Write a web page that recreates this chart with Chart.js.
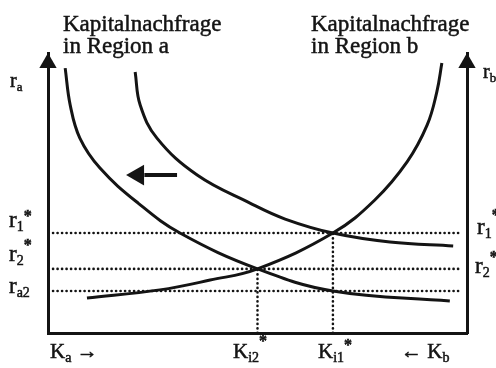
<!DOCTYPE html>
<html>
<head>
<meta charset="utf-8">
<script src="https://cdn.jsdelivr.net/npm/chart.js@4.4.1/dist/chart.umd.min.js"></script>
<style>
  html, body { margin: 0; padding: 0; background: #fff; }
  canvas { display: block; }
</style>
</head>
<body>
<canvas id="kapital-chart" width="496" height="368"></canvas>
<script>
// Kapitalnachfrage in Region a (nach der Verschiebung, links)
const kapitalA1 = [4.1, 5.3, 7.6, 12.4, 21.5, 31.5, 50.0, 68.0, 95.9];
const zinsA1 = [94.6, 81.4, 69.6, 58.9, 46.4, 35.7, 22.9, 15.0, 11.4];
// Kapitalnachfrage in Region a (ursprünglich)
const kapitalA0 = [20.8, 22.0, 26.0, 35.6, 48.2, 56.6, 68.0, 81.6, 96.7];
const zinsA0 = [93.2, 81.4, 69.6, 56.4, 46.4, 40.7, 35.7, 32.5, 31.1];
// Kapitalnachfrage in Region b (von rechts gemessen)
const kapitalB = [9.3, 26.7, 38.7, 50.0, 68.0, 78.0, 85.7, 90.5, 92.8, 94.0];
const zinsB = [12.5, 15.4, 18.9, 22.9, 35.7, 47.5, 61.1, 74.3, 86.1, 96.4];

// Gleichgewichtswerte
const zinsNiveaus = [35.7, 22.9, 15.0];   // r1*, r2*, ra2
const kapitalNiveaus = [68.0, 50.0];      // Ki1*, Ki2*
const hilfslinieVon = 1.2, hilfslinieBis = 98.5;

// Pfeil (Verschiebung der Nachfrage)
const pfeilVon = 30.8, pfeilBis = 21.5, pfeilZins = 56.4;

const titelA = ['Kapitalnachfrage', 'in Region a'];
const titelB = ['Kapitalnachfrage', 'in Region b'];

const ink = '#141414';
const serif = '"Liberation Serif", "DejaVu Serif", serif';

const toPoints = (xs, ys) => xs.map((x, i) => ({ x: x, y: ys[i] }));

function curve(xs, ys) {
  return {
    data: toPoints(xs, ys),
    showLine: true,
    borderColor: ink,
    borderWidth: 3,
    pointRadius: 0,
    tension: 0.4
  };
}

function dotted(points) {
  return {
    data: points,
    showLine: true,
    borderColor: ink,
    borderWidth: 2.6,
    borderDash: [0.1, 4.4],
    borderCapStyle: 'round',
    pointRadius: 0
  };
}

const datasets = [];
zinsNiveaus.forEach(r => datasets.push(dotted([{ x: hilfslinieVon, y: r }, { x: hilfslinieBis, y: r }])));
kapitalNiveaus.forEach((k, i) => datasets.push(dotted([{ x: k, y: 0 }, { x: k, y: zinsNiveaus[i] }])));
datasets.push(curve(kapitalA1, zinsA1));
datasets.push(curve(kapitalA0, zinsA0));
datasets.push(curve(kapitalB, zinsB));
// Pfeilschaft + Pfeilspitze
datasets.push({
  data: [{ x: pfeilVon, y: pfeilZins }, { x: pfeilBis + 1.5, y: pfeilZins }],
  showLine: true, borderColor: ink, borderWidth: 4, pointRadius: 0
});
datasets.push({
  data: [{ x: pfeilBis, y: pfeilZins }],
  showLine: false, pointStyle: 'triangle', pointRadius: 12, pointRotation: -90,
  backgroundColor: ink, borderColor: ink, borderWidth: 0
});
// Achsenpfeile
datasets.push({
  data: [{ x: 0, y: 96.4 }, { x: 100, y: 96.4 }],
  showLine: false, pointStyle: 'triangle', pointRadius: 10,
  backgroundColor: ink, borderColor: ink, borderWidth: 0, clip: false
});

function drawRich(ctx, x, y, parts) {
  let cx = x;
  parts.forEach(([text, size, dy, weight]) => {
    ctx.font = (weight || '') + ' ' + size + 'px ' + serif;
    ctx.fillText(text, cx, y + dy);
    ctx.strokeText(text, cx, y + dy);
    cx += ctx.measureText(text).width;
  });
}

const labelPlugin = {
  id: 'labels',
  afterDraw(chart) {
    const ctx = chart.ctx;
    ctx.save();
    ctx.fillStyle = ink;
    ctx.strokeStyle = ink;
    ctx.lineWidth = 0.5;
    ctx.textBaseline = 'alphabetic';
    ctx.textAlign = 'left';

    drawRich(ctx, 63, 31, [[titelA[0], 23, 0]]);
    drawRich(ctx, 63, 53, [[titelA[1], 23, 0]]);
    drawRich(ctx, 311, 31, [[titelB[0], 23, 0]]);
    drawRich(ctx, 311, 53, [[titelB[1], 23, 0]]);

    // linke Achse
    drawRich(ctx, 10, 87, [['r', 20, 0], ['a', 13, 4]]);
    drawRich(ctx, 9, 227, [['r', 23, 0], ['1', 14, 4], ['*', 16, -6, 'bold']]);
    drawRich(ctx, 9, 261, [['r', 23, 0], ['2', 14, 4], ['*', 16, -11, 'bold']]);
    drawRich(ctx, 9, 293, [['r', 23, 0], ['a2', 14, 4]]);
    // rechte Achse
    drawRich(ctx, 483, 78, [['r', 20, 0], ['b', 13, 4]]);
    drawRich(ctx, 477, 234, [['r', 23, 0], ['1', 14, 4], ['*', 16, -14, 'bold']]);
    drawRich(ctx, 475, 273, [['r', 23, 0], ['2', 14, 4], ['*', 16, -11, 'bold']]);
    // untere Achse
    drawRich(ctx, 50, 358, [['K', 21, 0], ['a', 14, 4], [' →', 21, 0]]);
    drawRich(ctx, 233, 358, [['K', 21, 0], ['i2', 14, 4], ['*', 16, -12, 'bold']]);
    drawRich(ctx, 318, 358, [['K', 21, 0], ['i1', 14, 4], ['*', 16, -8, 'bold']]);
    drawRich(ctx, 401, 358, [['← ', 21, 0], ['K', 21, 0], ['b', 14, 4]]);
    ctx.restore();
  }
};

const axisStyle = {
  min: 0, max: 100,
  grid: { display: false },
  ticks: { display: false },
  border: { display: true, color: ink, width: 3 }
};

new Chart(document.getElementById('kapital-chart').getContext('2d'), {
  type: 'scatter',
  data: { datasets: datasets },
  options: {
    responsive: false,
    animation: false,
    devicePixelRatio: 1,
    layout: { padding: { top: 53, left: 0, right: 0, bottom: 0 } },
    plugins: { legend: { display: false }, tooltip: { enabled: false } },
    scales: {
      x: Object.assign({}, axisStyle, { type: 'linear', position: 'bottom', afterFit: s => { s.height = 35; } }),
      y: Object.assign({}, axisStyle, { type: 'linear', position: 'left', afterFit: s => { s.width = 48; } }),
      y2: Object.assign({}, axisStyle, { type: 'linear', position: 'right', afterFit: s => { s.width = 29; } })
    }
  },
  plugins: [labelPlugin]
});
</script>
</body>
</html>
